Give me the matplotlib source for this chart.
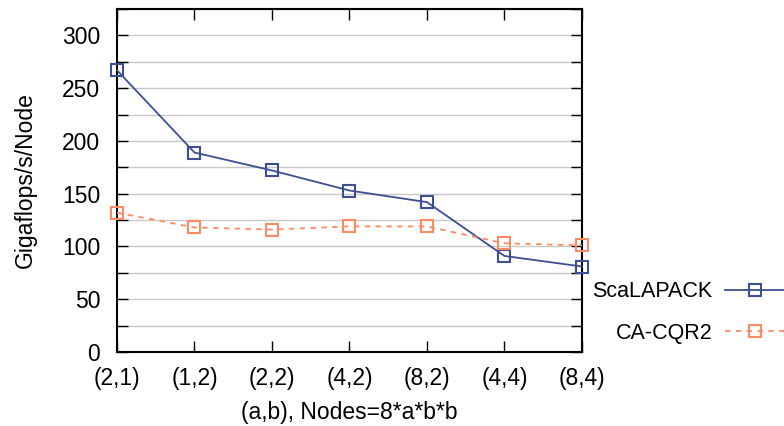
import matplotlib.pyplot as plt
import numpy as np

plt.rcParams['font.family'] = ['Liberation Sans', 'DejaVu Sans']

configs = ["(2,1)", "(1,2)", "(2,2)", "(4,2)", "(8,2)", "(4,4)", "(8,4)"]
scalapack = [267, 189, 172, 153, 142, 91, 81]
cacqr2 = [132, 118, 116, 119, 119, 103, 101]

blue = '#3b4f92'
orange = '#fc8a62'
fs = 16.5

fig = plt.figure(figsize=(7.84, 4.26), dpi=100)
ax = fig.add_axes([0.1492, 0.1737, 0.5931, 0.8052])

x = np.arange(len(configs))
ax.plot(x, scalapack, color=blue, lw=1.3, marker='s', ms=9, mfc='none',
        mec=blue, mew=1.5, label='ScaLAPACK', clip_on=False, zorder=3)
ax.plot(x, cacqr2, color=orange, lw=1.3, ls=(0, (3, 3)), marker='s', ms=9,
        mfc='none', mec=orange, mew=1.5, label='CA-CQR2', clip_on=False, zorder=3)

ax.set_xlim(0, 6)
ax.set_ylim(0, 325)
ax.set_xticks(x)
ax.set_xticklabels(configs)
ax.set_yticks(np.arange(0, 301, 50))
ax.set_yticks(np.arange(25, 326, 25), minor=True)
ax.yaxis.grid(True, which='both', color='#c8c8c8', lw=1)
ax.set_axisbelow(True)
ax.tick_params(which='both', direction='in', top=True, right=True,
               labelsize=fs, length=8, width=1)
ax.tick_params(axis='y', which='minor', length=8)
ax.tick_params(axis='x', pad=11)
ax.tick_params(axis='y', pad=12)
for s in ax.spines.values():
    s.set_linewidth(1.5)

ax.set_ylabel('Gigaflops/s/Node', fontsize=fs, labelpad=18)
ax.set_xlabel('(a,b), Nodes=8*a*b*b', fontsize=fs, labelpad=8)

leg = ax.legend(loc='upper left', bbox_to_anchor=(1.022, 0.206), frameon=False,
                markerfirst=False, handlelength=2.8, fontsize=15.5,
                labelspacing=0.95, handletextpad=0.6, borderaxespad=0.0,
                borderpad=0.0)

fig.savefig('out.png', dpi=100)
